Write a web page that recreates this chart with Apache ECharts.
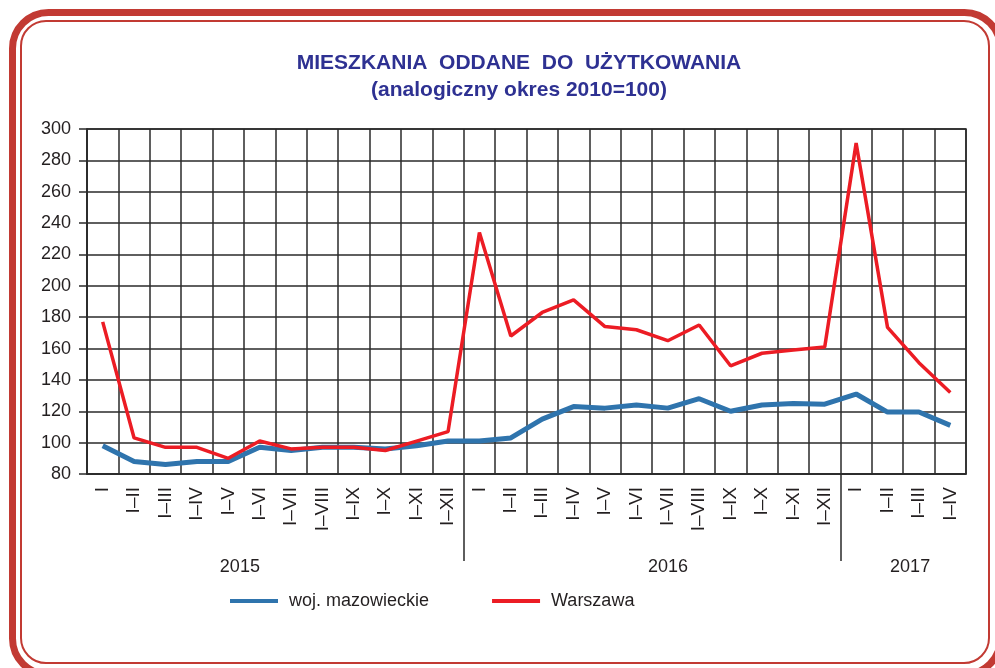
<!DOCTYPE html>
<html><head><meta charset="utf-8">
<script src="https://cdn.jsdelivr.net/npm/echarts@6/dist/echarts.min.js"></script>
<style>html,body{margin:0;padding:0;background:#fff}#c{width:995px;height:668px}</style>
</head><body><div id="c"></div>
<script>
// ---- data ----
const categories = [
  'I','I–II','I–III','I–IV','I–V','I–VI','I–VII','I–VIII','I–IX','I–X','I–XI','I–XII',
  'I','I–II','I–III','I–IV','I–V','I–VI','I–VII','I–VIII','I–IX','I–X','I–XI','I–XII',
  'I','I–II','I–III','I–IV'
];
const mazowieckie = [98, 88, 86, 88, 88, 97, 95, 97, 97, 96, 98, 101,
                     101, 103, 115, 123, 122, 124, 122, 128, 120, 124, 125, 124.5,
                     131, 119.5, 119.5, 111];
const warszawa = [177, 103, 97, 97, 90, 101, 96, 97, 97, 95, 101, 107,
                  234, 168, 183, 191, 174, 172, 165, 175, 149, 157, 159, 161,
                  291, 173.5, 151, 132];
const seriesNames = ['woj. mazowieckie', 'Warszawa'];
const years = ['2015', '2016', '2017'];
const yearBoundaries = [12, 24];           // category index where a new year starts
const yMin = 80, yMax = 300, yStep = 20;
const titleText = 'MIESZKANIA  ODDANE  DO  UŻYTKOWANIA';
const subtitleText = '(analogiczny okres 2010=100)';

// ---- layout ----
const G = {left: 87, right: 29, top: 129, bottom: 194};
const yearLabelPos = [4.87, 18.51, 26.22]; // label anchor in category units from grid left
const FONT = '"Liberation Sans", Arial, sans-serif';
const TXT = '#231f20';
const GRID = '#2a2a2a';
const RED = '#ec1c24', BLUE = '#2f74ad', FRAME = '#c23a33';

const chart = echarts.init(document.getElementById('c'), null, {renderer: 'canvas'});

const graphics = [
  {type: 'rect', z: 0, silent: true,
   shape: {x: 12.5, y: 12.5, width: 988, height: 662, r: 36},
   style: {fill: 'none', stroke: FRAME, lineWidth: 7}},
  {type: 'rect', z: 0, silent: true,
   shape: {x: 21, y: 21, width: 968, height: 642, r: 25},
   style: {fill: 'none', stroke: FRAME, lineWidth: 2}}
];

chart.setOption({
  animation: false,
  backgroundColor: '#fff',
  textStyle: {fontFamily: FONT},
  title: {
    text: titleText, subtext: subtitleText,
    left: 514, textAlign: 'center', top: 48, itemGap: 6,
    textStyle: {fontFamily: FONT, fontSize: 21, fontWeight: 'bold', color: '#2e3192'},
    subtextStyle: {fontFamily: FONT, fontSize: 21, fontWeight: 'bold', color: '#2e3192'}
  },
  legend: {
    left: 225, top: 587, itemWidth: 48, itemHeight: 4, itemGap: 63, icon: 'rect',
    data: seriesNames,
    textStyle: {fontFamily: FONT, fontSize: 18, color: TXT, padding: [0, 0, 0, 6]}
  },
  grid: {left: G.left, right: G.right, top: G.top, bottom: G.bottom, show: true,
         borderColor: GRID, borderWidth: 1.5},
  xAxis: [{
    type: 'category', data: categories, boundaryGap: true,
    axisLine: {show: true, lineStyle: {color: GRID, width: 1.5}},
    axisTick: {show: false},
    axisLabel: {interval: 0, rotate: 90, margin: 13, fontSize: 19, color: TXT, fontFamily: FONT},
    splitLine: {show: true, interval: 0, lineStyle: {color: GRID, width: 1.5}}
  }, {
    type: 'value', position: 'bottom', min: 0, max: categories.length,
    axisLine: {show: false},
    splitLine: {show: false},
    axisTick: {show: true, inside: false, length: 87, customValues: yearBoundaries,
               lineStyle: {color: GRID, width: 1.5}},
    axisLabel: {show: true, customValues: yearLabelPos, margin: 84,
                fontSize: 18, color: TXT, fontFamily: FONT,
                formatter: (v) => years[yearLabelPos.indexOf(v)] || ''}
  }],
  yAxis: {
    type: 'value', min: yMin, max: yMax, interval: yStep,
    axisLine: {show: true, lineStyle: {color: GRID, width: 1.5}},
    axisTick: {show: true, inside: false, length: 8, lineStyle: {color: GRID, width: 1.5}},
    axisLabel: {margin: 16, fontSize: 18, color: TXT, fontFamily: FONT},
    splitLine: {show: true, lineStyle: {color: GRID, width: 1.5}}
  },
  series: [
    {name: seriesNames[0], type: 'line', data: mazowieckie, symbol: 'none', xAxisIndex: 0,
     color: BLUE, lineStyle: {color: BLUE, width: 5}, z: 3},
    {name: seriesNames[1], type: 'line', data: warszawa, symbol: 'none', xAxisIndex: 0,
     color: RED, lineStyle: {color: RED, width: 3.5}, z: 4}
  ],
  graphic: graphics
});
</script>
</body></html>
